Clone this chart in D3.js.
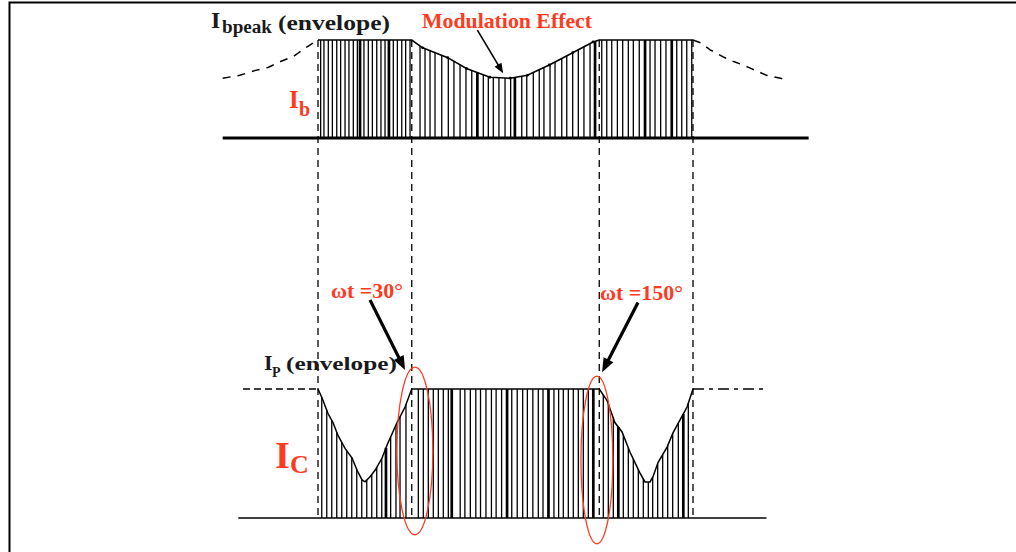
<!DOCTYPE html>
<html>
<head>
<meta charset="utf-8">
<script src="https://cdn.jsdelivr.net/npm/d3@7"></script>
<style>
    html, body { margin: 0; padding: 0; background: #fff; }
    svg { display: block; }
    text { font-family: "Liberation Serif", "Times New Roman", serif; font-weight: bold; }
</style>
</head>
<body>
<svg id="chart" width="1016" height="552"></svg>
<script>
/**
 * Base current / collector current under PWM chopping
 * angles are ωt in degrees, values are relative to the peak envelope
 */

// base current Ib: envelope outside the conduction window (dashed)
var baseEnvelopeLeft = [[-91, 0.61], [-80, 0.64], [-70, 0.69], [-62, 0.72], [-54, 0.78], [-46, 0.83], [-37, 0.93], [-30, 1]];
var baseEnvelopeRight = [[210, 1], [215, 0.97], [221, 0.9], [229, 0.83], [236, 0.78], [242, 0.745], [247, 0.71], [257, 0.64], [266, 0.61], [271, 0.59]];
// base current Ib: envelope inside the window, with the modulation dip
var baseEnvelope = [[-30, 1], [30, 1], [37, 0.92], [53, 0.82], [65, 0.71], [80, 0.62], [93, 0.61], [104, 0.64], [118, 0.745], [133, 0.87], [146, 0.98], [150, 1], [210, 1]];
var basePulses = [-28.3, -26.2, -23.4, -20.8, -18, -15.5, -12.7, -10.2, -7.4, -4.8, -3.1, -0.6, 2.2, 4.8, 7.6, 10.3, 12.9, 15.4, 18.2, 20.8, 23.6, 26.1, 28.9,
    35.3, 38.5, 41.7, 44.9, 49.2, 53.4, 57, 60.9, 64.7, 68.4, 72, 75.8, 79, 82.2, 85.8, 89.7, 93.3, 96, 100.4, 103.6, 107.8, 111.6, 114.6, 118.5, 121.7, 126, 129.2, 133, 136.6, 140.2, 144.1, 147.3,
    151.6, 154.8, 158, 161.6, 165, 168.6, 171.8, 175.6, 179.3, 182.5, 185.7, 189.3, 192.7, 196.4, 199.6, 202.8, 206, 209.2];
var basePulsesThick = [-3.1, 15.4, 72, 96, 147.3, 179.3, 196.4];
var baseAxis = [-91, 284];

// collector current Ic
var collectorEnvelope = [[-30, 1], [-27.4, 0.93], [-23.6, 0.81], [-20.4, 0.74], [-17.2, 0.64], [-12.7, 0.54], [-8.2, 0.465], [-5, 0.37], [-1.8, 0.295], [0.1, 0.28], [3.3, 0.32], [6.5, 0.37], [11, 0.465], [14.2, 0.566], [20.6, 0.74], [25.7, 0.86], [30, 1],
    [150, 1], [155, 0.91], [160, 0.74], [164.6, 0.667], [169.7, 0.51], [176, 0.35], [179.3, 0.28], [182.5, 0.28], [184.4, 0.32], [187.6, 0.43], [193.4, 0.55], [197.2, 0.66], [201.7, 0.76], [206.2, 0.86], [210, 1]];
var collectorPulses = [-27.6, -24.4, -21.2, -18, -14.8, -11.6, -8.4, -5.2, -2, 1.2, 4.4, 7.6, 10.8, 13.5, 16.5, 19.9, 22.5, 26.3,
    34.2, 37.4, 40.6, 43.8, 47, 50.2, 53.4, 55.6, 61, 64, 67.5, 71, 74, 77.5, 81, 84, 87.5, 91, 94, 97.5, 101, 104, 107.5, 111, 114, 117.5, 121, 124,
    127, 130.2, 133.4, 136.6, 139.8, 143, 146.2, 152.6, 155.8, 159, 162.2, 165.4, 168.6, 171.8, 175, 178.2, 181.4, 184.2, 187.4, 190.6, 193.8, 197, 200.6, 203.8, 207];
var collectorPulsesThick = [13.5, 55.6, 91, 117.5, 146.2, 162.2, 203.8];
var collectorAxis = [-81, 257];
var peakLevelLeft = [-78, -30];
var peakLevelRight = [210, 256];

// window edges and the two marked angles
var markerAngles = [-30, 30, 150, 210];
var markerEllipses = [
    { from: 20.5, to: 43.5, low: -0.13, high: 1.17 },
    { from: 138.3, to: 158.7, low: -0.2, high: 1.1 }
];
// annotation arrows: [from, to] as [angle, value]
var modulationArrow = [[72, 1.1], [88.5, 0.66]];
var angleArrows = [
    [[3.3, 1.69], [25.7, 1.147]],
    [[174.8, 1.67], [151.8, 1.13]]
];

(function () {

    var red = "#ff3b1f";
    var ink = "#1a1a1a";

    var svg = d3.select("#chart");

    var x = d3.scaleLinear().domain([-30, 210]).range([318, 693]);
    var yBase = d3.scaleLinear().domain([0, 1]).range([138, 40]);
    var yColl = d3.scaleLinear().domain([0, 1]).range([518, 389]);

    // frame
    svg.append("path")
        .attr("d", "M9.5,552 L9.5,2.5 L1016,2.5")
        .attr("fill", "none")
        .attr("stroke", "#000")
        .attr("stroke-width", 2);

    var lineBase = d3.line().x(function (d) { return x(d[0]); }).y(function (d) { return yBase(d[1]); });
    var lineColl = d3.line().x(function (d) { return x(d[0]); }).y(function (d) { return yColl(d[1]); });

    function envelopeScale(env) {
        return d3.scaleLinear().domain(env.map(function (d) { return d[0]; })).range(env.map(function (d) { return d[1]; }));
    }

    function drawPulses(g, pulses, thick, env, y) {
        var level = envelopeScale(env);
        g.selectAll("line.pulse")
            .data(pulses)
            .enter().append("line")
            .attr("class", "pulse")
            .attr("x1", function (d) { return x(d); })
            .attr("x2", function (d) { return x(d); })
            .attr("y1", y(0))
            .attr("y2", function (d) { return y(level(d)); })
            .attr("stroke", "#000")
            .attr("stroke-width", function (d) { return thick.indexOf(d) >= 0 ? 2.7 : 1.3; });
    }

    // ---- top panel: Ib ----
    var topPanel = svg.append("g");
    drawPulses(topPanel, basePulses, basePulsesThick, baseEnvelope, yBase);

    topPanel.append("path")
        .attr("d", lineBase(baseEnvelope))
        .attr("fill", "none")
        .attr("stroke", "#000")
        .attr("stroke-width", 1.6);

    topPanel.selectAll("circle.dot")
        .data(baseEnvelope.slice(2, -2))
        .enter().append("circle")
        .attr("cx", function (d) { return x(d[0]); })
        .attr("cy", function (d) { return yBase(d[1]); })
        .attr("r", 1.4)
        .attr("fill", "#000");

    [baseEnvelopeLeft, baseEnvelopeRight].forEach(function (env) {
        topPanel.append("path")
            .attr("d", lineBase(env))
            .attr("fill", "none")
            .attr("stroke", "#000")
            .attr("stroke-width", 1.5)
            .attr("stroke-dasharray", "8,7");
    });

    topPanel.append("line")
        .attr("x1", x(baseAxis[0])).attr("x2", x(baseAxis[1]))
        .attr("y1", yBase(0)).attr("y2", yBase(0))
        .attr("stroke", "#000")
        .attr("stroke-width", 2.8);

    // ---- bottom panel: Ic ----
    var bottomPanel = svg.append("g");
    drawPulses(bottomPanel, collectorPulses, collectorPulsesThick, collectorEnvelope, yColl);

    bottomPanel.append("path")
        .attr("d", lineColl(collectorEnvelope))
        .attr("fill", "none")
        .attr("stroke", "#000")
        .attr("stroke-width", 1.5);

    bottomPanel.selectAll("line.peak")
        .data([peakLevelLeft, peakLevelRight])
        .enter().append("line")
        .attr("class", "peak")
        .attr("x1", function (d) { return x(d[0]); })
        .attr("x2", function (d) { return x(d[1]); })
        .attr("y1", yColl(1)).attr("y2", yColl(1))
        .attr("stroke", "#000")
        .attr("stroke-width", 1.3)
        .attr("stroke-dasharray", function (d, i) { return i === 0 ? "7,4" : "11,5,4,5"; });

    bottomPanel.append("line")
        .attr("x1", x(collectorAxis[0])).attr("x2", x(collectorAxis[1]))
        .attr("y1", yColl(0)).attr("y2", yColl(0))
        .attr("stroke", "#000")
        .attr("stroke-width", 1.6);

    // window edges, running through both panels
    svg.selectAll("line.marker")
        .data(markerAngles)
        .enter().append("line")
        .attr("class", "marker")
        .attr("x1", function (d) { return x(d); })
        .attr("x2", function (d) { return x(d); })
        .attr("y1", yBase(1))
        .attr("y2", yColl(0))
        .attr("stroke", "#000")
        .attr("stroke-width", 1.3)
        .attr("stroke-dasharray", "7,5");

    svg.selectAll("ellipse.mark")
        .data(markerEllipses)
        .enter().append("ellipse")
        .attr("class", "mark")
        .attr("cx", function (d) { return (x(d.from) + x(d.to)) / 2; })
        .attr("cy", function (d) { return (yColl(d.low) + yColl(d.high)) / 2; })
        .attr("rx", function (d) { return (x(d.to) - x(d.from)) / 2; })
        .attr("ry", function (d) { return (yColl(d.low) - yColl(d.high)) / 2; })
        .attr("fill", "none")
        .attr("stroke", red)
        .attr("stroke-width", 1.3);

    // arrows
    function arrow(p0, p1, width, headLen, headWidth) {
        var dx = p1[0] - p0[0], dy = p1[1] - p0[1];
        var len = Math.sqrt(dx * dx + dy * dy);
        var ux = dx / len, uy = dy / len;
        var bx = p1[0] - ux * headLen, by = p1[1] - uy * headLen;
        svg.append("line")
            .attr("x1", p0[0]).attr("y1", p0[1])
            .attr("x2", bx + ux * 2).attr("y2", by + uy * 2)
            .attr("stroke", "#000")
            .attr("stroke-width", width);
        svg.append("path")
            .attr("d", "M" + p1[0] + "," + p1[1] +
                "L" + (bx - uy * headWidth / 2) + "," + (by + ux * headWidth / 2) +
                "L" + (bx + uy * headWidth / 2) + "," + (by - ux * headWidth / 2) + "Z")
            .attr("fill", "#000");
    }

    arrow([x(modulationArrow[0][0]), yBase(modulationArrow[0][1])],
        [x(modulationArrow[1][0]), yBase(modulationArrow[1][1])], 1.6, 10, 8);
    angleArrows.forEach(function (a) {
        arrow([x(a[0][0]), yColl(a[0][1])], [x(a[1][0]), yColl(a[1][1])], 3.2, 14, 11);
    });

    // labels
    function label(px, py, size, color, str, len) {
        var t = svg.append("text")
            .attr("x", px).attr("y", py)
            .attr("fill", color)
            .style("font-size", size + "px")
            .text(str);
        if (len) t.attr("textLength", len).attr("lengthAdjust", "spacingAndGlyphs");
        return t;
    }

    label(211, 28, 24, ink, "I");
    label(222, 33, 18, ink, "bpeak", 50);
    label(278, 30, 21, ink, "(envelope)", 112);
    label(422, 28, 21, red, "Modulation Effect", 170);
    label(289, 108, 25, red, "I");
    label(299, 116, 20, red, "b");
    label(331, 298, 20, red, "ωt =30°", 72);
    label(600, 300, 20, red, "ωt =150°", 83);
    label(264, 370, 22, ink, "I");
    label(272, 377, 14, ink, "P");
    label(286, 370, 19, ink, "(envelope)", 111);
    label(275, 468, 38, red, "I");
    label(290, 473, 26, red, "C");

})();
</script>
</body>
</html>
